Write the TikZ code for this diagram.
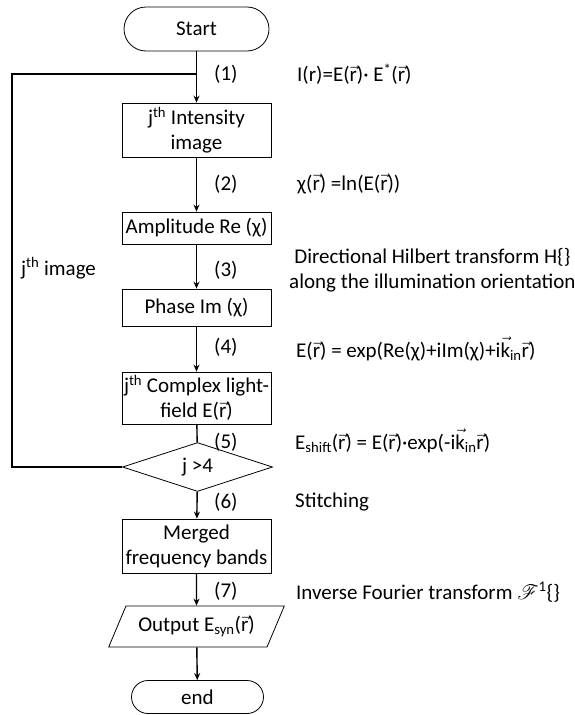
\documentclass[tikz,border=0pt]{standalone}
\usepackage{fontspec}
\setmainfont{Carlito}
\usepackage{mathrsfs}
\usetikzlibrary{
	arrows.meta,
	shapes.geometric,
	shapes.misc
}
\newcommand{\rv}{$\vec{\mathrm{r}}$}
\newcommand{\kv}{$\vec{\mathrm{k}}$}

\begin{document}
\begin{tikzpicture}[x=1pt, y=-1pt,
	font=\fontsize{21}{25}\selectfont,
	stepbox/.style={draw, line width=0.8pt, minimum width=149pt, align=center, inner sep=2pt},
	term/.style={draw, rounded rectangle, line width=0.8pt, inner sep=2pt},
	flow/.style={line width=1.4pt, -{Stealth[length=7pt, width=6pt]}},
	link/.style={line width=1.4pt},
	note/.style={anchor=west, inner sep=0pt}]
		\useasboundingbox (0,0) rectangle (575,715);
		
		\node[term, minimum width=149pt, minimum height=44pt] (start) at (196.5,29) {Start};
		\node[stepbox, minimum height=54pt] (intens) at (196.5,130) {j\textsuperscript{th} Intensity\\image};
		\node[stepbox, minimum height=32pt] (ampl) at (196.5,228) {Amplitude Re (χ)};
		\node[stepbox, minimum height=37pt] (phase) at (196.5,307.5) {Phase Im (χ)};
		\node[stepbox, minimum height=52pt] (field) at (196.5,398) {j\textsuperscript{th} Complex light-\\field E(\rv)};
		\node[draw, diamond, line width=0.8pt, minimum width=150pt, minimum height=40pt, inner sep=0pt] (cond) at (197.5,467) {j >4};
		\node[stepbox, minimum height=54pt] (merged) at (196.5,546) {Merged\\frequency bands};
		\node[draw, trapezium, trapezium left angle=60, trapezium right angle=120, trapezium stretches=true,
			line width=0.8pt, minimum width=176pt, minimum height=41pt, inner sep=2pt] (output) at (196.5,626.5) {Output E\textsubscript{syn}(\rv)};
		\node[term, minimum width=136pt, minimum height=33pt] (finish) at (197.5,697) {end};
		
		\coordinate (join) at (196.5,74);
		\coordinate (back) at (12,467);
		
		\draw[link] (start) -- (join);
		\draw[flow] (join) -- (intens);
		\draw[flow] (intens) -- (ampl);
		\draw[flow] (ampl) -- (phase);
		\draw[flow] (phase) -- (field);
		\draw[link] (field) -- (cond);
		\draw[flow] (cond) -- (merged);
		\draw[flow] (merged) -- (output);
		\draw[flow] (output) -- (finish);
		\draw[link] (cond.west) -- (back) |- (join);
		
		% step numbers
		\foreach \n/\y in {1/74, 2/184, 3/270, 4/347, 5/442, 6/502, 7/591}
			\node[note] (step\n) at (214,\y) {(\n)};
		
		\node[note] (eqone) at (297,74) {I(r)=E(\rv)· E\textsuperscript{*}(\rv)};
		\node[note] (eqtwo) at (297,184) {χ(\rv) =ln(E(\rv))};
		\node[note, align=center] (hilbert) at (289,270) {Directional Hilbert transform H\{\}\\along the illumination orientation};
		\node[note] (eqfour) at (296,349) {E(\rv) = exp(Re(χ)+iIm(χ)+i\kv\textsubscript{in}\rv)};
		\node[note] (eqfive) at (295,441) {E\textsubscript{shift}(\rv) = E(\rv)·exp(-i\kv\textsubscript{in}\rv)};
		\node[note] (stitch) at (295,502) {Stitching};
		\node[note] (invft) at (296,592) {Inverse Fourier transform $\mathscr{F}$\textsuperscript{1}\{\}};
		\node[note] (loopname) at (21,268) {j\textsuperscript{th} image};
	\end{tikzpicture}
\end{document}
